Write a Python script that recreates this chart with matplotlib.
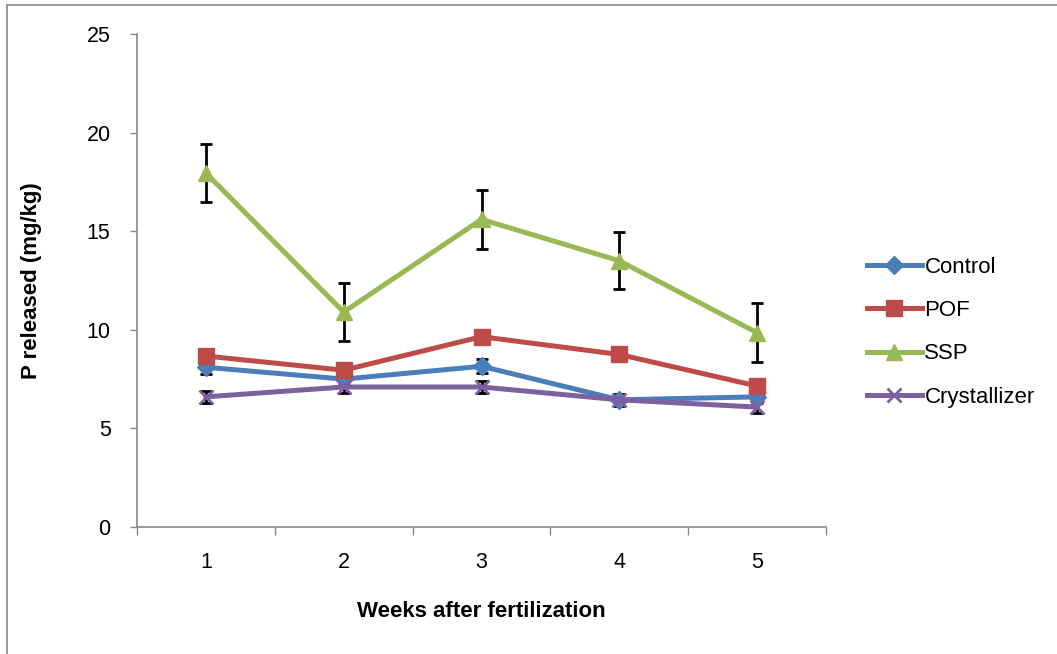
import matplotlib.pyplot as plt
from matplotlib.lines import Line2D

plt.rcParams['font.family'] = ['Liberation Sans', 'DejaVu Sans']

weeks = [1, 2, 3, 4, 5]
control = [8.1, 7.5, 8.15, 6.45, 6.6]
pof = [8.67, 7.95, 9.65, 8.75, 7.15]
ssp = [17.95, 10.9, 15.6, 13.5, 9.85]
crystallizer = [6.6, 7.1, 7.1, 6.45, 6.08]

control_err = [0.35, 0.3, 0.35, 0.3, 0.3]
pof_err = [0.3, 0.3, 0.3, 0.3, 0.3]
ssp_err = [1.48, 1.48, 1.48, 1.45, 1.5]
crystallizer_err = [0.3, 0.3, 0.3, 0.3, 0.3]

fig = plt.figure(figsize=(10.57, 6.54), dpi=100)
ax = fig.add_axes([137/1057, 1 - 527/654, (826 - 137)/1057, (527 - 34)/654])

series = [
    ('Control', control, control_err, '#4A7EBB', 'D', 9),
    ('POF', pof, pof_err, '#BE4B48', 's', 11),
    ('SSP', ssp, ssp_err, '#98B954', '^', 12),
    ('Crystallizer', crystallizer, crystallizer_err, '#7D60A0', 'x', 10),
]

# error bars first so the markers sit on top
for name, vals, err, col, mk, ms in series:
    ax.errorbar(weeks, vals, yerr=err, fmt='none', ecolor='black',
                elinewidth=2, capsize=4.5, capthick=2, zorder=2)

for name, vals, err, col, mk, ms in series:
    mew = 2 if mk == 'x' else 1
    ax.plot(weeks, vals, color=col, lw=3.6, marker=mk, markersize=ms,
            markeredgewidth=mew, label=name, zorder=3)

ax.set_xlim(0.5, 5.5)
ax.set_ylim(0, 25)
ax.set_yticks([0, 5, 10, 15, 20, 25])
ax.set_xticks(weeks)
ax.set_xticks([0.5, 1.5, 2.5, 3.5, 4.5, 5.5], minor=True)
ax.tick_params(axis='x', which='major', length=0, pad=18, labelsize=15.5)
ax.tick_params(axis='x', which='minor', length=6, width=1, color='#888888', direction='out')
ax.tick_params(axis='y', length=5, width=1, color='#888888', pad=14, labelsize=15.5)

for s in ['top', 'right']:
    ax.spines[s].set_visible(False)
for s in ['left', 'bottom']:
    ax.spines[s].set_color('#888888')
    ax.spines[s].set_linewidth(1.2)

ax.set_xlabel('Weeks after fertilization', fontsize=16, fontweight='bold', labelpad=20)
ax.set_ylabel('P released (mg/kg)', fontsize=16, fontweight='bold', labelpad=32)

ax.legend(loc='center left', bbox_to_anchor=(1.03, 0.395), frameon=False,
          fontsize=16, handlelength=2.5, handletextpad=0.1, labelspacing=1.0)

# outer chart frame
fig.add_artist(Line2D([7/1057, 7/1057], [0, 1 - 5/654], transform=fig.transFigure,
                      color='#888888', lw=1.2))
fig.add_artist(Line2D([7/1057, 1], [1 - 5/654, 1 - 5/654], transform=fig.transFigure,
                      color='#888888', lw=1.2))

fig.savefig('out.png', dpi=100)
